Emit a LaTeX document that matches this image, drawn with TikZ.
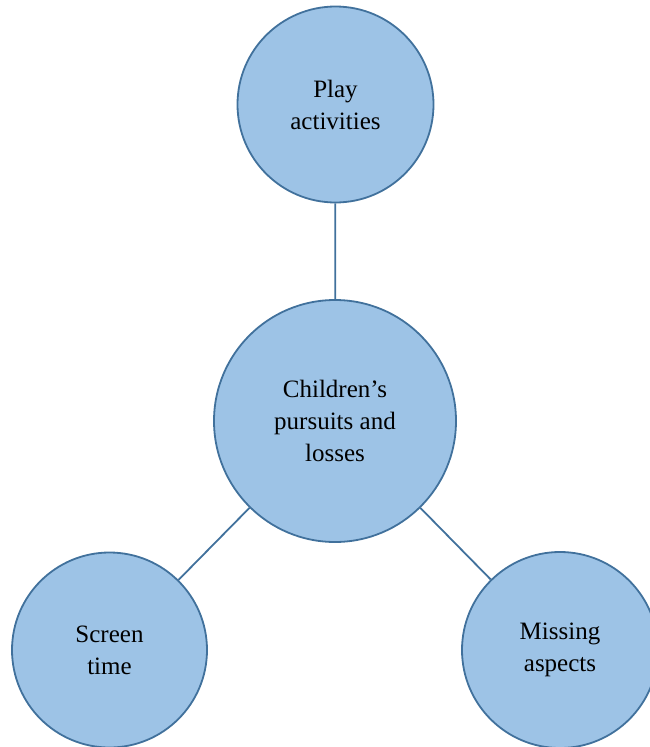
\documentclass[tikz,border=0pt]{standalone}
\usepackage{fontspec}
\setmainfont{Liberation Serif}
\definecolor{bubblefill}{HTML}{9DC3E6}
\definecolor{bubbleedge}{HTML}{41719C}
\begin{document}
\begin{tikzpicture}[x=1pt,y=-1pt,
  bubble/.style={circle,draw=bubbleedge,fill=bubblefill,line width=1.8pt,
    inner sep=0pt,align=center,font=\fontsize{25}{32}\selectfont},
  link/.style={draw=bubbleedge,line width=1.8pt}]
\useasboundingbox (0,0) rectangle (650,747);
\clip (0,0) rectangle (650,747);
\node[bubble,minimum size=196pt] (play) at (335.5,104.5) {Play\\activities};
\node[bubble,minimum size=242pt] (core) at (335,421) {Children’s\\pursuits and\\losses};
\node[bubble,minimum size=195pt] (screen) at (109.5,650) {Screen\\time};
\node[bubble,minimum size=196pt] (missing) at (560,650) {Missing\\aspects};
\draw[link] (play) -- (core);
\draw[link] (core) -- (screen);
\draw[link] (core) -- (missing);
\end{tikzpicture}
\end{document}
